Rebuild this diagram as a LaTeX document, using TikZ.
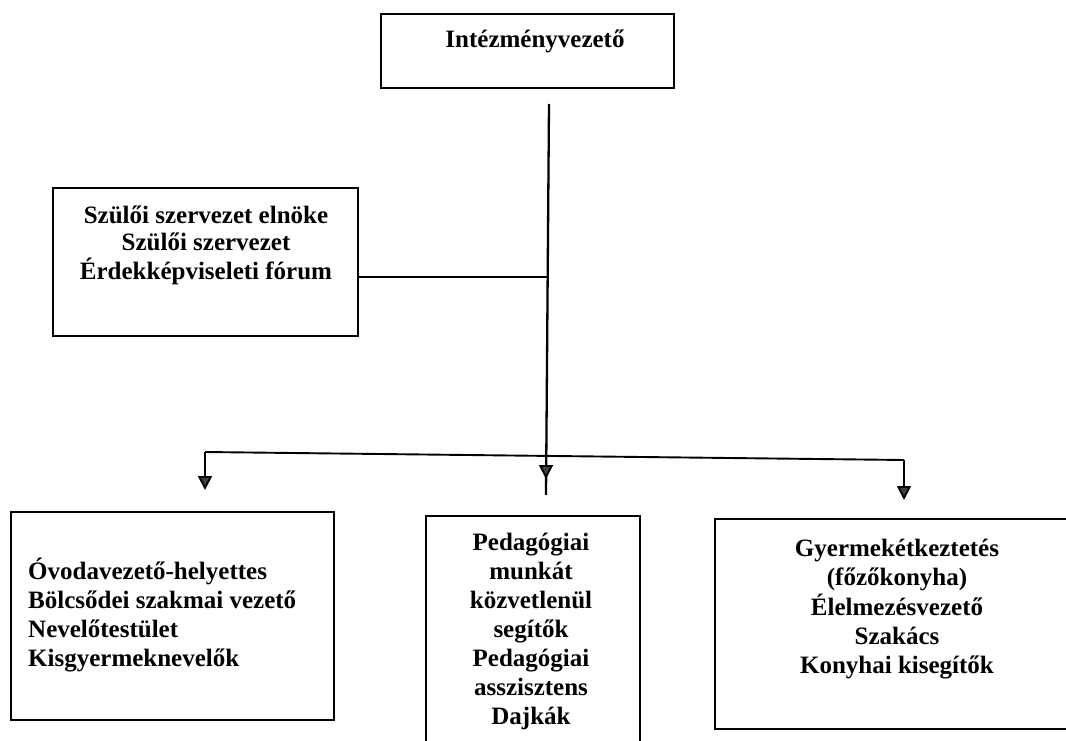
\documentclass[tikz,border=0pt]{standalone}
\usepackage{fontspec}
\setmainfont{Liberation Serif}
\usetikzlibrary{arrows.meta}
\newcommand{\ctab}[1]{\begin{tabular}[t]{@{}c@{}}#1\end{tabular}}
\newcommand{\ltab}[1]{\begin{tabular}[t]{@{}l@{}}#1\end{tabular}}
\begin{document}
\begin{tikzpicture}[x=1pt,y=-1pt,
  box/.style={draw,line width=1.8pt,inner sep=0pt,anchor=north west},
  txt/.style={font=\fontsize{25}{29}\selectfont\bfseries,inner sep=0pt,anchor=base},
  conn/.style={line width=1.9pt},
  mainline/.style={line width=2.3pt},
  arr/.style={line width=1.9pt,-{Triangle[width=14pt,length=14pt,fill=black!75]}}]
\clip (0,0) rectangle (1066,741);
\fill[white] (0,0) rectangle (1066,741);
% boxes
\node[box,minimum width=293pt,minimum height=74pt] (top) at (380,13) {};
\node[box,minimum width=305pt,minimum height=148pt] (parent) at (52,187) {};
\node[box,minimum width=323pt,minimum height=208pt] (left) at (10,511) {};
\node[box,minimum width=214pt,minimum height=250pt] (mid) at (425,515) {};
\node[box,minimum width=360pt,minimum height=210pt] (right) at (714,518) {};
% texts
\node[txt] (toptxt) at (535,48) {Intézményvezető};
\node[txt,font=\fontsize{25}{27}\selectfont\bfseries] (partxt) at (206,223) {\ctab{Szülői szervezet elnöke\\Szülői szervezet\\Érdekképviseleti fórum}};
\node[txt,anchor=base west] (lefttxt) at (28,579) {\ltab{Óvodavezető-helyettes\\Bölcsődei szakmai vezető\\Nevelőtestület\\Kisgyermeknevelők}};
\node[txt] (midtxt) at (531,550) {\ctab{Pedagógiai\\munkát\\közvetlenül\\segítők\\Pedagógiai\\asszisztens\\Dajkák}};
\node[txt] (righttxt) at (897,556) {\ctab{Gyermekétkeztetés\\(főzőkonyha)\\Élelmezésvezető\\Szakács\\Konyhai kisegítők}};
% connectors
\coordinate (vtop) at (549,104);
\coordinate (vbot) at (546,495);
\coordinate (vjoin) at (548,277);
\coordinate (barL) at (205,452);
\coordinate (barM) at (546,456);
\coordinate (barR) at (904,460);
\coordinate (tipL) at (205,490);
\coordinate (tipM) at (546,479);
\coordinate (tipR) at (904,500);
\draw[mainline] (vtop) -- (vbot);
\draw[conn] (parent.east |- vjoin) -- (vjoin);
\draw[conn] (barL) -- (barR);
\draw[arr] (barL) -- (tipL);
\draw[arr] (barM) -- (tipM);
\draw[arr] (barR) -- (tipR);
\end{tikzpicture}
\end{document}
